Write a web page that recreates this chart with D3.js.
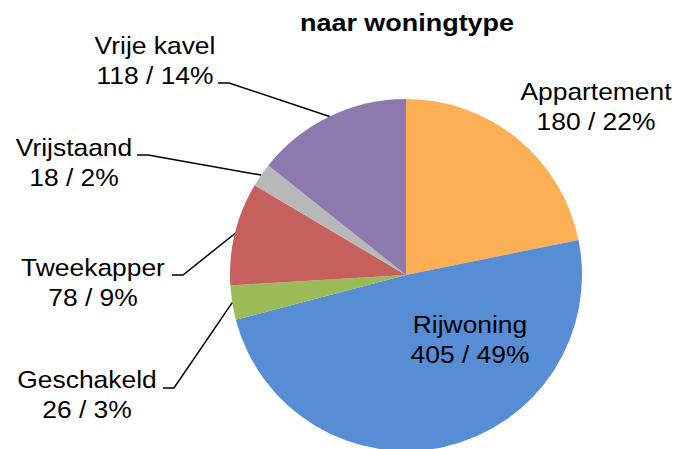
<!DOCTYPE html>
<html>
<head>
<meta charset="utf-8">
<script src="https://cdn.jsdelivr.net/npm/d3@7"></script>
<style>
  html, body { margin: 0; padding: 0; background: #fff; }
  svg { display: block; font-family: 'Liberation Sans', Arial, sans-serif; }
</style>
</head>
<body>
<div id="chart"></div>
<script>
// woningtypes, clockwise from 12 o'clock
const categories = ['Appartement', 'Rijwoning', 'Geschakeld', 'Tweekapper', 'Vrijstaand', 'Vrije kavel']
const counts = [180, 405, 26, 78, 18, 118]
const percents = [22, 49, 3, 9, 2, 14]
const colors = ['#FDAF55', '#568DD4', '#9BBB59', '#C5605C', '#B8B8B8', '#8E79AF']
const title = 'naar woningtype'

// label placement (x = text centre, y = first baseline, lead = leader start)
const labelLayout = {
  Appartement: { x: 596, y: 100 },
  Rijwoning: { x: 470, y: 333 },
  Geschakeld: { x: 87, y: 388, lead: [163, 388] },
  Tweekapper: { x: 93, y: 276, lead: [172, 275] },
  Vrijstaand: { x: 74, y: 156, lead: [137, 155] },
  'Vrije kavel': { x: 155, y: 54, lead: [218, 83] }
}

const width = 679
const height = 449
const cx = 406
const cy = 275
const radius = 176
const fontSize = 24
const lineGap = 30
const stretch = 1.1 // text in the source is a bit wider than plain Arial

const data = categories.map((c, i) => ({ name: c, value: counts[i], pct: percents[i], color: colors[i] }))

const svg = d3.select('#chart').append('svg')
  .attr('width', width)
  .attr('height', height)

const pie = d3.pie().value(d => d.value).sort(null)
const arc = d3.arc().innerRadius(0).outerRadius(radius)
const arcs = pie(data)

const g = svg.append('g').attr('transform', `translate(${cx},${cy})`)

g.selectAll('path.slice')
  .data(arcs)
  .enter()
  .append('path')
  .attr('class', 'slice')
  .attr('d', arc)
  .attr('fill', d => d.data.color)

// leader lines: short horizontal piece then to the slice edge
svg.selectAll('path.leader')
  .data(arcs.filter(d => labelLayout[d.data.name].lead))
  .enter()
  .append('path')
  .attr('class', 'leader')
  .attr('fill', 'none')
  .attr('stroke', '#000')
  .attr('stroke-width', 1.5)
  .attr('d', d => {
    const [lx, ly] = labelLayout[d.data.name].lead
    const mid = (d.startAngle + d.endAngle) / 2
    const ex = cx + radius * Math.sin(mid)
    const ey = cy - radius * Math.cos(mid)
    return d3.line()([[lx, ly], [lx + 11, ly], [ex, ey]])
  })

const labels = svg.selectAll('g.label')
  .data(arcs)
  .enter()
  .append('g')
  .attr('class', 'label')
  .attr('transform', d => {
    const p = labelLayout[d.data.name]
    return `translate(${p.x},${p.y}) scale(${stretch},1)`
  })

labels.append('text')
  .attr('text-anchor', 'middle')
  .style('font-size', fontSize + 'px')
  .attr('fill', '#000')
  .text(d => d.data.name)

labels.append('text')
  .attr('text-anchor', 'middle')
  .attr('y', lineGap)
  .style('font-size', fontSize + 'px')
  .attr('fill', '#000')
  .text(d => `${d.data.value} / ${d.data.pct}%`)

svg.append('text')
  .attr('transform', `translate(407,31) scale(${stretch},1)`)
  .attr('text-anchor', 'middle')
  .style('font-size', '24.5px')
  .style('font-weight', 'bold')
  .text(title)
</script>
</body>
</html>
